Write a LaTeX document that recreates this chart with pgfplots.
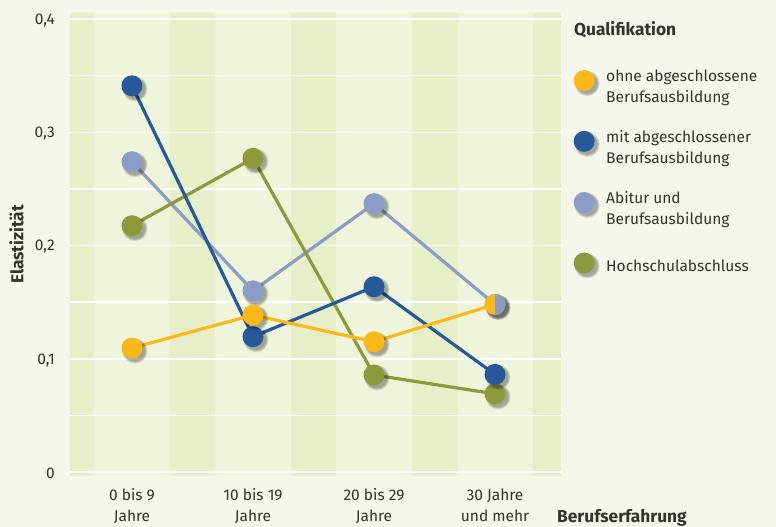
\documentclass[border=0pt]{standalone}
\usepackage{fontspec}
\setmainfont{Fira Sans}
\usepackage{pgfplots}
\pgfplotsset{compat=1.18}

\definecolor{bgcol}{HTML}{F5F7EA}
\definecolor{plotlight}{HTML}{EFF5DA}
\definecolor{plotdark}{HTML}{E7EFC9}
\definecolor{yel}{HTML}{FBB81A}
\definecolor{dblue}{HTML}{26589A}
\definecolor{lblue}{HTML}{8B9CC8}
\definecolor{olive}{HTML}{8D9A3B}
\definecolor{textcol}{HTML}{333333}

\pgfdeclareplotmark{sball}{%
  \begin{pgfscope}
    \pgfsetfillcolor{black}
    \pgfsetfillopacity{0.12}
    \pgfpathcircle{\pgfpoint{3bp}{-3bp}}{\pgfplotmarksize+2bp}\pgfusepathqfill
    \pgfpathcircle{\pgfpoint{3bp}{-3bp}}{\pgfplotmarksize+1bp}\pgfusepathqfill
    \pgfpathcircle{\pgfpoint{3bp}{-3bp}}{\pgfplotmarksize}\pgfusepathqfill
  \end{pgfscope}
  \pgfpathcircle{\pgfpointorigin}{\pgfplotmarksize}\pgfusepathqfill
}
\pgfdeclareplotmark{halfright}{%
  \pgfpathmoveto{\pgfpoint{0pt}{-\pgfplotmarksize}}
  \pgfpatharc{-90}{90}{\pgfplotmarksize}
  \pgfpathclose
  \pgfusepathqfill
}

\pgfplotsset{
  legmark/.style={legend image code/.code={%
      \draw[##1] plot[only marks] coordinates {(0bp,#1)};}},
  ser/.style={color=#1, line width=3.2bp, line join=round, mark=sball,
      mark size=10.5bp, mark options={solid}, forget plot},
}

\begin{document}
\begin{tikzpicture}[font=\fontsize{15.5bp}{22bp}\selectfont, text=textcol]
\fill[bgcol] (-70bp,-51bp) rectangle (706bp,476bp);
\begin{axis}[
  name=ax,
  scale only axis, width=491bp, height=463bp,
  xmin=-0.512, xmax=3.545,
  ymin=-0.0035, ymax=0.4053,
  axis line style={draw=none},
  tick style={draw=none},
  xtick={0,1,2,3},
  xticklabels={{0 bis 9\\Jahre},{10 bis 19\\Jahre},{20 bis 29\\Jahre},{30 Jahre\\und mehr}},
  xticklabel style={align=center, anchor=north, inner sep=0pt, yshift=-12.5bp,
     font=\fontsize{15.5bp}{21bp}\selectfont, text=textcol},
  ytick={0,0.1,0.2,0.3,0.4},
  yticklabels={0,{0,1},{0,2},{0,3},{0,4}},
  yticklabel style={anchor=east, inner sep=0pt, xshift=-15bp, yshift=-1.5bp,
     font=\fontsize{15.5bp}{18bp}\selectfont, text=textcol},
  xlabel={\textbf{Berufserfahrung}},
  xlabel style={at={(axis description cs:1,0)}, anchor=base west, inner sep=0pt,
     xshift=-4bp, yshift=-46bp, font=\fontsize{17.3bp}{19bp}\selectfont, text=textcol},
  ylabel={\textbf{Elastizität}},
  ylabel style={at={(axis description cs:-0.094,0.5)}, anchor=south, inner sep=0pt,
     rotate=0, font=\fontsize{17.3bp}{19bp}\selectfont, text=textcol},
  legend style={draw=none, fill=none, at={(axis description cs:1,1)}, anchor=north west,
     xshift=12.5bp, yshift=-56.5bp, row sep=26bp, column sep=6.5bp, inner sep=0pt,
     nodes={inner sep=0pt, align=left, text=textcol,
            font=\fontsize{15.5bp}{21.5bp}\selectfont}},
  legend cell align=left,
]
% plot area background with stripes
\fill[plotlight] (axis cs:-0.512,-0.0035) rectangle (axis cs:3.545,0.4053);
\fill[plotdark] (axis cs:-0.512,-0.0035) rectangle (axis cs:-0.315,0.4053);
\fill[plotdark] (axis cs:0.315,-0.0035) rectangle (axis cs:0.69,0.4053);
\fill[plotdark] (axis cs:1.315,-0.0035) rectangle (axis cs:1.69,0.4053);
\fill[plotdark] (axis cs:2.315,-0.0035) rectangle (axis cs:2.69,0.4053);
\fill[plotdark] (axis cs:3.315,-0.0035) rectangle (axis cs:3.545,0.4053);
% grid lines
\draw[white, line width=1.5bp]
  (axis cs:-0.512,0) -- (axis cs:3.545,0)
  (axis cs:-0.512,0.05) -- (axis cs:3.545,0.05)
  (axis cs:-0.512,0.1) -- (axis cs:3.545,0.1)
  (axis cs:-0.512,0.15) -- (axis cs:3.545,0.15)
  (axis cs:-0.512,0.2) -- (axis cs:3.545,0.2)
  (axis cs:-0.512,0.25) -- (axis cs:3.545,0.25)
  (axis cs:-0.512,0.3) -- (axis cs:3.545,0.3)
  (axis cs:-0.512,0.35) -- (axis cs:3.545,0.35)
  (axis cs:-0.512,0.4) -- (axis cs:3.545,0.4);

% series
\addplot[ser=lblue] coordinates {(0,0.274) (1,0.160) (2,0.237) (3,0.148)};
\addplot[ser=olive] coordinates {(0,0.2175) (1,0.277) (2,0.0857) (3,0.069)};
\addplot[ser=dblue] coordinates {(0,0.341) (1,0.1195) (2,0.1636) (3,0.0862)};
\addplot[ser=yel] coordinates {(0,0.1095) (1,0.1386) (2,0.115) (3,0.148)};
\addplot[color=lblue, only marks, mark=halfright, mark size=10.5bp, forget plot]
  coordinates {(3,0.148)};

% legend
\addlegendimage{legmark=6.5bp, color=yel, mark=sball, mark size=10.5bp}
\addlegendentry{ohne abgeschlossene\\Berufsausbildung}
\addlegendimage{legmark=6.5bp, color=dblue, mark=sball, mark size=10.5bp}
\addlegendentry{mit abgeschlossener\\Berufsausbildung}
\addlegendimage{legmark=6.5bp, color=lblue, mark=sball, mark size=10.5bp}
\addlegendentry{Abitur und\\Berufsausbildung}
\addlegendimage{legmark=3bp, color=olive, mark=sball, mark size=10.5bp}
\addlegendentry{Hochschulabschluss}
\end{axis}
\node[anchor=base west, inner sep=0pt, font=\fontsize{17.3bp}{19bp}\selectfont\bfseries]
  at ([xshift=13bp,yshift=-22.7bp]ax.north east) {Qualifikation};
\end{tikzpicture}
\end{document}
